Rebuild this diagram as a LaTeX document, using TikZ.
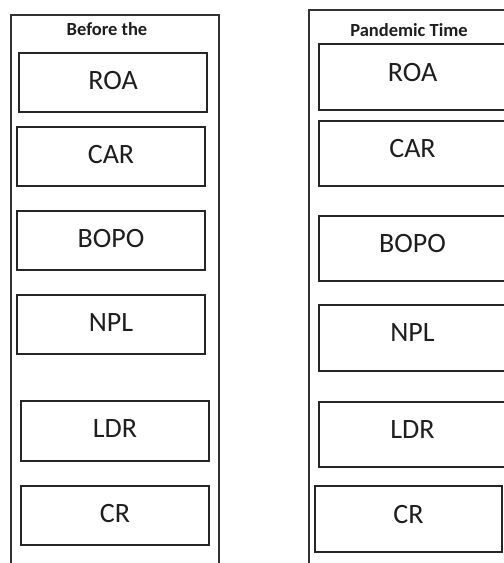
\documentclass[tikz,border=0pt]{standalone}
\usepackage{fontspec}
\setmainfont{Carlito}
\usepackage{xcolor}
\usepackage{tikz}
\usetikzlibrary{positioning}
\definecolor{boxline}{HTML}{262626}
\definecolor{frameline}{HTML}{333333}
\definecolor{labeltxt}{HTML}{1E1E1E}
\tikzset{
  metricbox/.style={
    rectangle, draw=boxline, line width=1.3pt, anchor=north west,
    inner sep=0pt, outer sep=0pt, text=labeltxt,
    font=\fontsize{28}{32}\selectfont, text depth=#1
  },
  metricbox/.default=4pt,
  panelframe/.style={
    draw=frameline, line width=1.7pt
  },
  paneltitle/.style={
    font=\fontsize{18.5}{22}\bfseries\selectfont, text=labeltxt, inner sep=0pt
  },
}

\begin{document}
\begin{tikzpicture}[x=1pt, y=-1pt]
  \useasboundingbox (0,0) rectangle (504,563);
  \clip (0,0) rectangle (504,563);
  \fill[white] (0,0) rectangle (504,563);

  % Before the pandemic
  \coordinate (fbl) at (11,563);
  \coordinate (ftl) at (11,15);
  \coordinate (ftr) at (219,15);
  \coordinate (fbr) at (219,563);
  \draw[panelframe] (fbl) -- (ftl) -- (ftr) -- (fbr);
  \node[paneltitle] (titleB) at (107,29) {Before the};

  \node[metricbox, minimum width=188pt, minimum height=59pt] (roaB)  at (19,53)  {ROA};
  \node[metricbox, minimum width=188pt, minimum height=59pt] (carB)  at (17,127) {CAR};
  \node[metricbox, minimum width=188pt, minimum height=59pt] (bopoB) at (17,211) {BOPO};
  \node[metricbox, minimum width=188pt, minimum height=59pt] (nplB)  at (17,295) {NPL};
  \node[metricbox, minimum width=188pt, minimum height=60pt] (ldrB)  at (21,401) {LDR};
  \node[metricbox, minimum width=188pt, minimum height=59pt] (crB)   at (21,486) {CR};

  % Pandemic time
  \coordinate (gbl) at (309,563);
  \coordinate (gtl) at (309,10);
  \coordinate (gtr) at (530,10);
  \draw[panelframe] (gbl) -- (gtl) -- (gtr);
  \node[paneltitle] (titleP) at (409,30) {Pandemic Time};

  \node[metricbox=10pt, minimum width=187pt, minimum height=66pt] (roaP)  at (319,44)  {ROA};
  \node[metricbox=10pt, minimum width=187pt, minimum height=65pt] (carP)  at (319,121) {CAR};
  \node[metricbox=10pt, minimum width=187pt, minimum height=65pt] (bopoP) at (319,216) {BOPO};
  \node[metricbox=10pt, minimum width=187pt, minimum height=66pt] (nplP)  at (319,305) {NPL};
  \node[metricbox=10pt, minimum width=187pt, minimum height=65pt] (ldrP)  at (319,402) {LDR};
  \node[metricbox=10pt, minimum width=187pt, minimum height=66pt] (crP)   at (315,486) {CR};
\end{tikzpicture}
\end{document}
